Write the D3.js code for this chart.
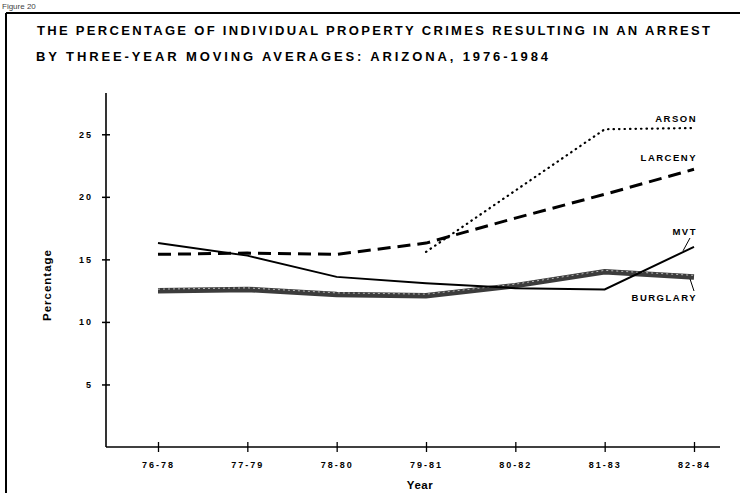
<!DOCTYPE html>
<html lang="en">
<head>
<meta charset="UTF-8">
<title>Property crimes resulting in an arrest</title>
<script src="https://d3js.org/d3.v7.min.js"></script>
<style>
    body { margin: 0; background: white; }
    svg { display: block; font-family: "Liberation Sans", Arial, sans-serif; }
    .title { font-size: 13px; font-weight: bold; }
    .tick text { font-size: 9px; font-weight: bold; letter-spacing: 2px; }
    .lbl { font-size: 9.5px; font-weight: bold; letter-spacing: 1.5px; }
</style>
</head>
<body>
<svg width="740" height="493"></svg>
<script>
    // data
    var years = ["76-78", "77-79", "78-80", "79-81", "80-82", "81-83", "82-84"];
    var arson    = [null, null, null, 15.6, 20.5, 25.4, 25.5];
    var larceny  = [15.4, 15.5, 15.4, 16.3, 18.3, 20.2, 22.2];
    var mvt      = [16.3, 15.3, 13.6, 13.1, 12.7, 12.6, 16.0];
    var burglary = [12.5, 12.6, 12.2, 12.1, 12.9, 14.0, 13.6];
    var yTicks = [5, 10, 15, 20, 25];

    var svg = d3.select("svg");

    // frame of the scanned page
    svg.append("text").attr("x", 2).attr("y", 9)
        .attr("font-size", "8px").attr("fill", "#444").text("Figure 20");
    svg.append("line").attr("x1", 6).attr("x2", 740).attr("y1", 13).attr("y2", 13)
        .attr("stroke", "black").attr("stroke-width", 2);
    svg.append("line").attr("x1", 6).attr("x2", 6).attr("y1", 13).attr("y2", 493)
        .attr("stroke", "black").attr("stroke-width", 2);

    svg.append("text").attr("class", "title").attr("x", 37).attr("y", 35)
        .attr("textLength", 673).attr("lengthAdjust", "spacing")
        .text("THE PERCENTAGE OF INDIVIDUAL PROPERTY CRIMES RESULTING IN AN ARREST");
    svg.append("text").attr("class", "title").attr("x", 36).attr("y", 61)
        .attr("textLength", 512).attr("lengthAdjust", "spacing")
        .text("BY THREE-YEAR  MOVING AVERAGES:  ARIZONA, 1976-1984");

    var x = d3.scalePoint().domain(years).range([158, 694]);
    var y = d3.scaleLinear().domain([0, 28.3]).range([447, 93]);

    // axes lines
    svg.append("line").attr("x1", 106).attr("x2", 106).attr("y1", 93).attr("y2", 447)
        .attr("stroke", "black").attr("stroke-width", 1.6);
    svg.append("line").attr("x1", 106).attr("x2", 720).attr("y1", 447).attr("y2", 447)
        .attr("stroke", "black").attr("stroke-width", 1.6);

    var yAxis = svg.append("g").attr("transform", "translate(106,0)")
        .call(d3.axisLeft(y).tickValues(yTicks).tickSize(4).tickPadding(9));
    yAxis.select(".domain").remove();
    yAxis.selectAll(".tick line").attr("x1", -4).attr("x2", 4).attr("stroke-width", 1.5);

    var xAxis = svg.append("g").attr("transform", "translate(0,447)")
        .call(d3.axisBottom(x).tickSize(5).tickPadding(10));
    xAxis.select(".domain").remove();
    xAxis.selectAll(".tick line").attr("y1", -5).attr("y2", 5).attr("stroke-width", 1.3);

    svg.append("text").attr("transform", "translate(51,285) rotate(-90)")
        .attr("text-anchor", "middle").attr("font-size", "11.5px").attr("font-weight", "bold")
        .attr("letter-spacing", "1px").text("Percentage");
    svg.append("text").attr("x", 420).attr("y", 489)
        .attr("text-anchor", "middle").attr("font-size", "11.5px").attr("font-weight", "bold")
        .attr("letter-spacing", "0.5px").text("Year");

    var line = d3.line()
        .defined(function(d) { return d != null; })
        .x(function(d, i) { return x(years[i]); })
        .y(function(d) { return y(d); });

    // burglary: thick grainy band
    svg.append("path").datum(burglary).attr("d", line)
        .attr("fill", "none").attr("stroke", "#3c3c3c").attr("stroke-width", 5.5);
    svg.append("path").datum(burglary).attr("d", line)
        .attr("fill", "none").attr("stroke", "#b5b5b5").attr("stroke-width", 1)
        .attr("stroke-dasharray", "2,3").attr("transform", "translate(0,-1.5)");

    // motor vehicle theft
    svg.append("path").datum(mvt).attr("d", line)
        .attr("fill", "none").attr("stroke", "black").attr("stroke-width", 2);

    // larceny: long dashes
    svg.append("path").datum(larceny).attr("d", line)
        .attr("fill", "none").attr("stroke", "black").attr("stroke-width", 3)
        .attr("stroke-dasharray", "13,7");

    // arson: dots
    svg.append("path").datum(arson).attr("d", line)
        .attr("fill", "none").attr("stroke", "black").attr("stroke-width", 2.2)
        .attr("stroke-linecap", "round").attr("stroke-dasharray", "0.5,5");

    // series labels
    var labels = [["ARSON", 122], ["LARCENY", 161], ["MVT", 235], ["BURGLARY", 301]];
    svg.selectAll(".lbl").data(labels).enter().append("text")
        .attr("class", "lbl").attr("x", 697).attr("y", function(d) { return d[1]; })
        .attr("text-anchor", "end").text(function(d) { return d[0]; });

    // leader lines
    svg.append("line").attr("x1", 690).attr("y1", 238).attr("x2", 683).attr("y2", y(mvt[6]) + 4)
        .attr("stroke", "black").attr("stroke-width", 1);
    svg.append("line").attr("x1", 690).attr("y1", y(burglary[6]) + 2).attr("x2", 694).attr("y2", 291)
        .attr("stroke", "black").attr("stroke-width", 1);
</script>
</body>
</html>
